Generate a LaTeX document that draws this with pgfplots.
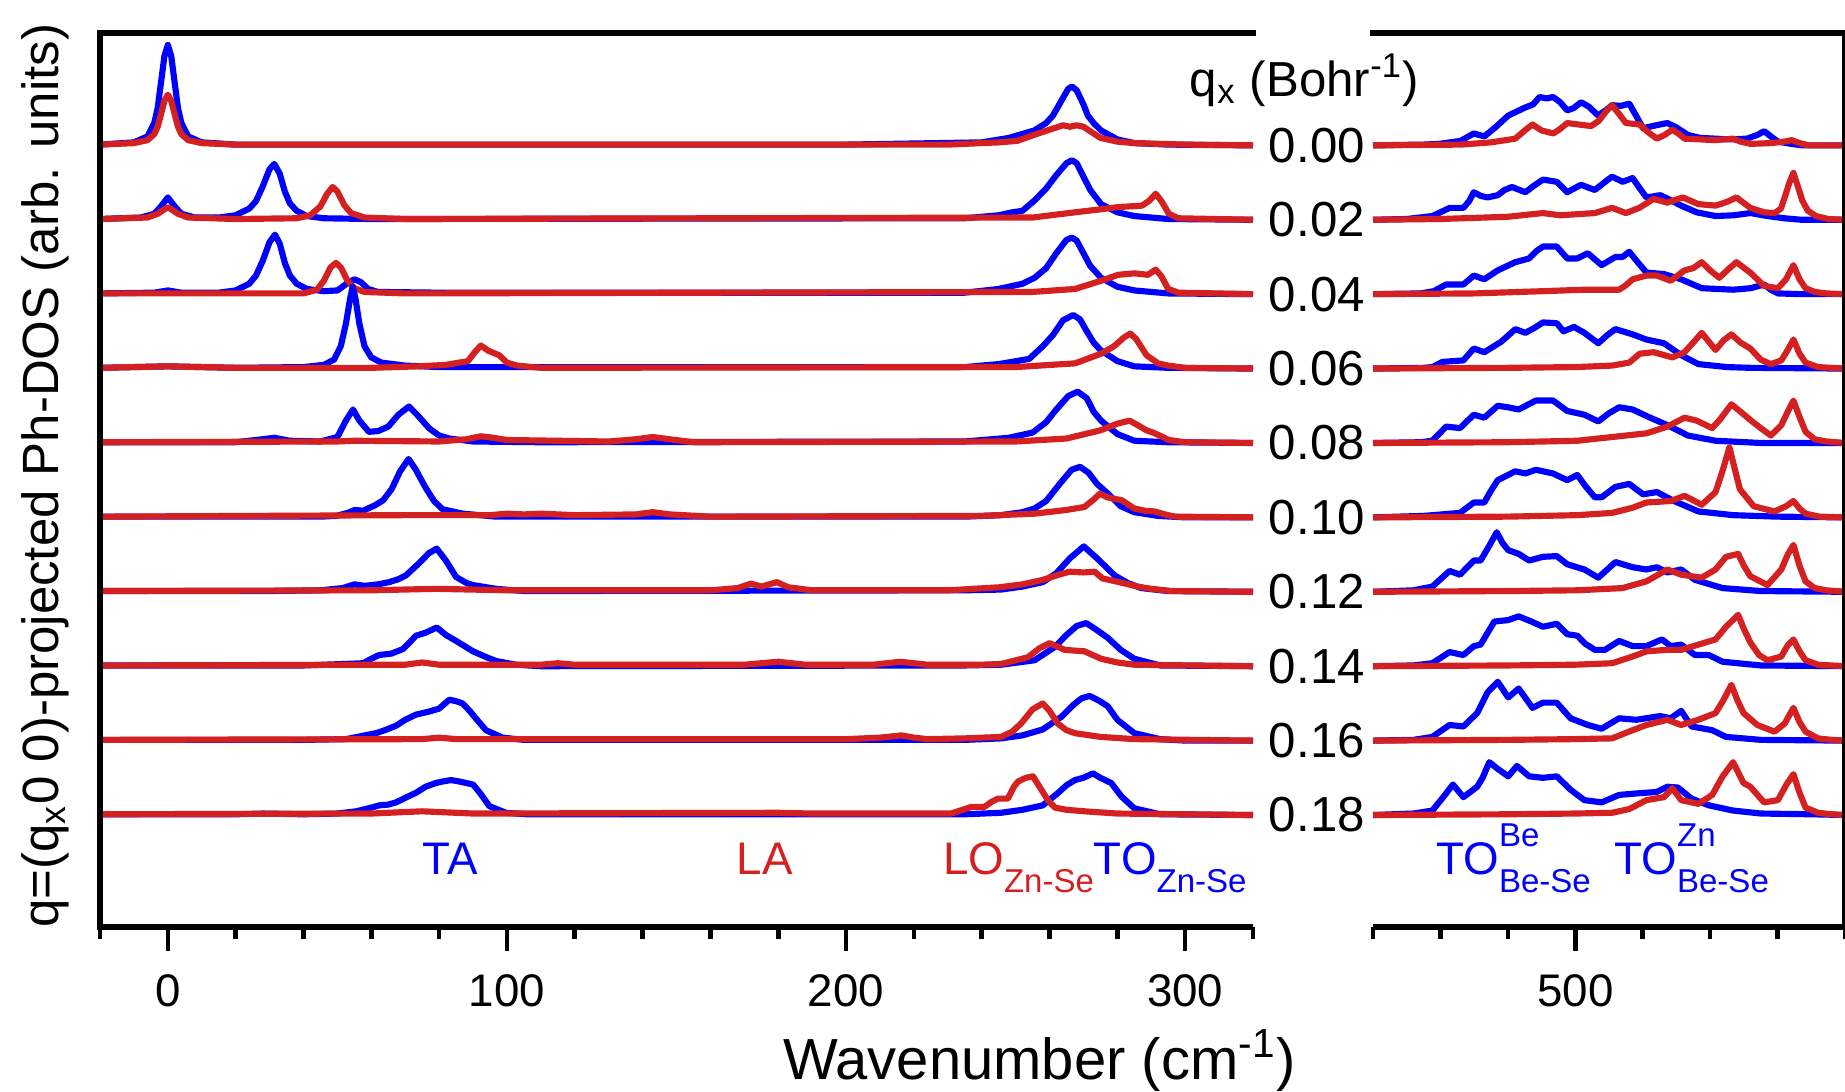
\documentclass[border=0pt]{standalone}
\usepackage{amsmath}
\usepackage{fontspec}
\setmainfont{Liberation Sans}
\usepackage{xcolor}
\usepackage{pgfplots}
\pgfplotsset{compat=1.18}
\definecolor{cblue}{HTML}{0000FF}
\definecolor{cred}{HTML}{D42020}

% label with stacked super- and subscript, set in the text font
\newcommand{\lbsub}[1]{\raisebox{-0.40em}{\fontsize{9.4}{10}\selectfont #1}}
\newcommand{\lbsupsub}[2]{\rlap{\raisebox{0.62em}{\fontsize{9.4}{10}\selectfont #1}}\lbsub{#2}}

\tikzset{qv/.style={anchor=west, inner sep=0, font=\fontsize{14}{16}\selectfont}}
\pgfplotsset{
  off/.style={y filter/.expression={y+#1}},
  bl/.style={draw=cblue, line width=1.75pt, line join=round, no marks},
  rd/.style={draw=cred, line width=1.75pt, line join=round, no marks},
  panel/.style={
    scale only axis, height=8.94cm,
    ymin=-1.505, ymax=10.51, ytick=\empty,
    hide y axis, clip=false,
    axis line style={line width=1.5pt, line cap=rect},
    tick align=outside, xtick pos=left,
    major tick length=0.24cm, minor tick length=0.12cm,
    every tick/.style={black, line width=1.3pt},
    /pgf/number format/assume math mode=true,
    xticklabel style={font=\fontsize{13}{15}\selectfont, yshift=-0.11cm},
  },
}

\begin{document}
\begin{tikzpicture}[font=\fontsize{13}{15}\selectfont]
\useasboundingbox (-1.00cm,-1.64cm) rectangle (17.45cm,9.27cm);

% ---------- low-frequency panel ----------
\begin{axis}[panel, at={(0,0)}, anchor=south west, width=11.53cm,
  xmin=-20, xmax=320, xtick={0,100,200,300},
  minor xtick={-20,20,40,60,80,120,140,160,180,220,240,260,280,320}]

% q = 0.00
\addplot[bl, off=9] coordinates {(-20,0.01) (-10,0.04) (-6,0.12) (-4,0.3) (-3,0.5) (-2,0.85) (-1,1.2) (0,1.35) (1,1.2) (2,0.85) (3,0.5) (4,0.3) (6,0.12) (10,0.04) (20,0.01) (100,0.01) (200,0.01) (240,0.04) (248,0.1) (255.5,0.2) (259,0.3) (261,0.4) (263.5,0.6) (265.5,0.76) (266.6,0.79) (268,0.74) (270,0.55) (271.3,0.4) (273,0.3) (275.2,0.2) (280,0.08) (285,0.03) (295,0.01) (320,0)};
\addplot[rd, off=9] coordinates {(-20,0.01) (-10,0.03) (-6,0.07) (-4,0.15) (-3,0.25) (-2,0.42) (-1,0.6) (0,0.68) (1,0.6) (2,0.42) (3,0.25) (4,0.15) (6,0.07) (10,0.03) (20,0.01) (230,0.01) (245,0.04) (250.5,0.06) (256,0.15) (262,0.24) (264,0.27) (266,0.25) (268,0.27) (270,0.25) (275,0.1) (280,0.05) (285,0.03) (300,0.01) (320,0)};

% q = 0.02
\addplot[bl, off=8] coordinates {(-20,0.01) (-8,0.03) (-4,0.08) (-2,0.18) (0,0.30) (2,0.18) (4,0.08) (8,0.03) (15,0.03) (20,0.06) (24,0.15) (26,0.25) (28,0.45) (30,0.68) (31.4,0.75) (33,0.62) (34.5,0.38) (36,0.22) (38,0.12) (41,0.05) (46,0.02) (60,0.01) (235,0.02) (245,0.06) (249,0.1) (252,0.12) (255.6,0.26) (259,0.42) (262,0.6) (265,0.76) (266.6,0.8) (268,0.76) (270,0.58) (272,0.4) (275.2,0.21) (280,0.1) (285,0.05) (295,0.01) (320,0)};
\addplot[rd, off=8] coordinates {(-20,0.01) (-6,0.03) (-3,0.08) (-1,0.14) (0,0.17) (1,0.14) (3,0.08) (6,0.03) (20,0.01) (38,0.02) (42,0.06) (45,0.18) (47,0.35) (48.6,0.44) (50,0.38) (52,0.2) (54,0.09) (58,0.03) (70,0.01) (255,0.03) (267.5,0.1) (275,0.14) (280.2,0.17) (287.3,0.19) (289.5,0.26) (291.3,0.35) (293,0.25) (295.2,0.08) (298,0.02) (320,0)};

% q = 0.04
\addplot[bl, off=7] coordinates {(-20,0.01) (-4,0.02) (0,0.05) (4,0.02) (15,0.02) (20,0.05) (24,0.14) (26,0.25) (28,0.45) (30,0.7) (31.6,0.8) (33,0.68) (34.5,0.42) (36,0.25) (38,0.14) (41,0.07) (46,0.04) (50,0.05) (53,0.15) (55,0.2) (57,0.16) (59,0.07) (62,0.03) (80,0.02) (100,0.02) (235,0.02) (245,0.07) (252,0.14) (255.6,0.22) (259,0.35) (262,0.55) (265,0.73) (266.6,0.76) (268,0.72) (270,0.55) (272,0.38) (275.2,0.22) (280,0.1) (285,0.05) (295,0.01) (320,0)};
\addplot[rd, off=7] coordinates {(-20,0.01) (40,0.01) (44,0.06) (46,0.18) (48,0.36) (49.6,0.42) (51,0.36) (53,0.18) (55,0.08) (58,0.03) (70,0.01) (255,0.03) (267.5,0.07) (275.2,0.18) (280.2,0.26) (285,0.28) (289,0.26) (291.3,0.33) (293,0.24) (295,0.07) (298,0.02) (320,0)};

% q = 0.06
\addplot[bl, off=6] coordinates {(-20,0.01) (0,0.03) (20,0.01) (40,0.02) (46,0.05) (49,0.12) (51,0.3) (52.5,0.6) (53.8,0.95) (54.5,1.1) (55.3,0.95) (56.5,0.6) (58,0.3) (60,0.15) (63,0.08) (70,0.04) (80,0.02) (100,0.02) (235,0.02) (245,0.06) (254,0.13) (258,0.3) (261,0.45) (264,0.65) (267,0.72) (269,0.66) (271,0.5) (273,0.35) (275,0.25) (280,0.1) (285,0.03) (295,0.01) (320,0)};
\addplot[rd, off=6] coordinates {(-20,0.01) (0,0.03) (20,0.01) (60,0.01) (73.8,0.03) (82,0.05) (88.5,0.1) (90.5,0.22) (92.3,0.31) (94.5,0.24) (97.7,0.18) (100,0.08) (103,0.04) (110,0.01) (250,0.02) (267.5,0.07) (275.2,0.2) (279,0.3) (282,0.42) (283.8,0.47) (285.5,0.4) (288.6,0.18) (292,0.07) (295,0.04) (300,0.01) (320,0)};

% q = 0.08
\addplot[bl, off=5] coordinates {(-20,0.01) (20,0.01) (26,0.04) (31.4,0.07) (36,0.03) (45,0.02) (50,0.08) (52.5,0.3) (54.6,0.45) (56.5,0.3) (59.3,0.15) (62,0.16) (65,0.22) (68,0.38) (71.1,0.49) (73.5,0.38) (77,0.2) (80,0.1) (83,0.06) (90,0.02) (110,0.01) (235,0.02) (248,0.07) (255,0.14) (259,0.28) (262,0.45) (265.5,0.63) (268.3,0.69) (271,0.6) (273,0.42) (275.2,0.3) (280,0.12) (285,0.03) (295,0.01) (320,0)};
\addplot[rd, off=5] coordinates {(-20,0.01) (50,0.02) (55,0.03) (80,0.02) (88,0.05) (92.3,0.09) (96,0.07) (100,0.04) (130,0.02) (138,0.05) (143,0.08) (148,0.05) (155,0.01) (250,0.02) (265,0.06) (275,0.17) (280,0.26) (283.6,0.3) (286,0.24) (288.6,0.17) (290.5,0.14) (292.5,0.1) (295.2,0.04) (300,0.01) (320,0)};

% q = 0.10
\addplot[bl, off=4] coordinates {(-20,0.01) (30,0.01) (45,0.01) (49.7,0.02) (53,0.06) (55.1,0.1) (57.6,0.09) (61,0.16) (63.5,0.23) (66,0.38) (68.5,0.62) (71,0.785) (73,0.65) (76,0.4) (78.5,0.22) (81,0.11) (87,0.05) (96.8,0.01) (235,0.01) (245.7,0.03) (252,0.07) (255.6,0.12) (259,0.22) (263,0.45) (266.5,0.64) (269,0.68) (271.5,0.6) (274,0.45) (277.2,0.32) (281,0.15) (285,0.07) (292,0.02) (300,0) (320,0)};
\addplot[rd, off=4] coordinates {(-20,0.01) (70,0.03) (95,0.03) (100,0.05) (105,0.04) (110,0.05) (120,0.03) (138,0.04) (143,0.07) (148,0.04) (160,0.01) (240,0.02) (255.6,0.05) (265,0.1) (270.3,0.14) (273,0.24) (274.9,0.32) (277,0.27) (281.3,0.23) (285,0.12) (288,0.09) (291,0.08) (294,0.04) (297,0.01) (320,0)};

% q = 0.12
\addplot[bl, off=3] coordinates {(-20,0.01) (30,0.01) (45,0.02) (51.6,0.05) (55,0.1) (58,0.08) (62,0.1) (65.3,0.13) (68,0.17) (70.2,0.22) (74,0.38) (77,0.52) (79.3,0.58) (82,0.42) (85,0.2) (88,0.12) (90,0.09) (96.8,0.04) (105,0.01) (235,0.02) (245.7,0.03) (252,0.07) (258,0.13) (262,0.25) (266,0.45) (270.1,0.61) (274,0.45) (279.2,0.22) (283,0.12) (287,0.05) (295,0.01) (320,0)};
\addplot[rd, off=3] coordinates {(-20,0.01) (60,0.02) (79,0.04) (100,0.02) (160,0.02) (168,0.05) (172,0.11) (175,0.07) (179.6,0.13) (183,0.06) (190,0.02) (230,0.02) (245,0.06) (252,0.1) (258,0.16) (262,0.22) (265.9,0.27) (270,0.26) (273.3,0.27) (275.6,0.18) (281.5,0.12) (286,0.07) (290,0.04) (296,0.01) (320,0)};

% q = 0.14
\addplot[bl, off=2] coordinates {(-20,0.01) (40,0.01) (52,0.03) (57.6,0.04) (60,0.1) (62.3,0.15) (66,0.17) (69.3,0.23) (71.5,0.33) (73.2,0.41) (76,0.45) (79.3,0.52) (82,0.42) (85,0.34) (90,0.2) (94,0.12) (96.8,0.07) (102.7,0.02) (110,0) (235,0.01) (245.7,0.02) (255.6,0.08) (261.6,0.26) (265,0.42) (268,0.54) (270.8,0.58) (273.5,0.5) (277.2,0.38) (281,0.22) (285,0.1) (292.6,0.01) (320,0)};
\addplot[rd, off=2] coordinates {(-20,0.01) (70,0.02) (75,0.05) (80,0.02) (110,0.02) (115,0.04) (120,0.02) (170,0.02) (180,0.06) (188,0.02) (208,0.02) (216,0.06) (224,0.02) (240,0.02) (245.7,0.03) (253.6,0.12) (257,0.24) (260,0.31) (262,0.27) (264.5,0.22) (270.3,0.2) (275.2,0.1) (280,0.05) (285,0.02) (320,0)};

% q = 0.16
\addplot[bl, off=1] coordinates {(-20,0.01) (40,0.01) (52.6,0.02) (57,0.06) (61.4,0.1) (64,0.14) (67.3,0.2) (70,0.28) (73.2,0.35) (77,0.39) (80,0.43) (83,0.55) (85,0.53) (86.9,0.5) (89,0.4) (90.8,0.3) (93.8,0.14) (98.7,0.04) (105,0.01) (235,0.01) (245.7,0.03) (252,0.07) (258,0.15) (263.5,0.32) (267,0.48) (269.5,0.57) (271.8,0.6) (274.5,0.54) (277.2,0.46) (280,0.28) (285,0.1) (292.6,0.02) (300,0) (320,0)};
\addplot[rd, off=1] coordinates {(-20,0.01) (75,0.02) (80,0.04) (85,0.02) (200,0.02) (210,0.04) (216.3,0.07) (220,0.04) (224,0.02) (235,0.03) (245.7,0.05) (249,0.12) (251.6,0.23) (255,0.42) (258,0.5) (260,0.4) (262.4,0.23) (265,0.14) (267.5,0.1) (275,0.05) (285,0.02) (320,0)};

% q = 0.18
\addplot[bl, off=0] coordinates {(-20,0.01) (20,0.01) (28,0.02) (40,0.01) (50,0.02) (55.6,0.05) (60,0.1) (62.4,0.13) (65,0.14) (67.3,0.17) (70,0.23) (73.2,0.3) (76,0.38) (79,0.43) (81,0.45) (83.5,0.47) (86,0.45) (90,0.41) (92,0.3) (94.8,0.12) (99.7,0.03) (106,0.01) (235,0.01) (245.7,0.03) (252,0.07) (258,0.13) (262.6,0.3) (265,0.4) (267.5,0.47) (270,0.5) (272.8,0.56) (275,0.5) (278.2,0.43) (281.2,0.25) (285,0.09) (292.6,0.01) (320,0)};
\addplot[rd, off=0] coordinates {(-20,0.01) (60,0.02) (75,0.05) (90,0.02) (180,0.03) (190,0.02) (231,0.02) (235,0.08) (236.9,0.11) (240.8,0.11) (243,0.18) (244.8,0.22) (247.7,0.22) (249.5,0.38) (250.7,0.45) (253,0.5) (255.1,0.52) (257.6,0.34) (259.5,0.2) (261.6,0.1) (265,0.07) (270.3,0.05) (280,0.02) (320,0)};

\draw[line width=1.5pt, line cap=rect] (rel axis cs:0,0) -- (rel axis cs:0,1);

\node[text=cblue, anchor=base, inner sep=0] at (axis cs:83.3,-0.80) {TA};
\node[text=cred, anchor=base, inner sep=0] at (axis cs:176,-0.80) {LA};
\node[anchor=base west, inner sep=0] at (axis cs:228.4,-0.80)
  {\textcolor{cred}{LO\lbsub{Zn-Se}}\textcolor{cblue}{TO\lbsub{Zn-Se}}};

\node[anchor=base west, inner sep=0, font=\fontsize{14}{16}\selectfont] at (axis cs:301.2,9.66)
  {q\textsubscript{x} (Bohr\textsuperscript{-1})};
\node[qv] at (axis cs:324.5,9) {0.00};
\node[qv] at (axis cs:324.5,8) {0.02};
\node[qv] at (axis cs:324.5,7) {0.04};
\node[qv] at (axis cs:324.5,6) {0.06};
\node[qv] at (axis cs:324.5,5) {0.08};
\node[qv] at (axis cs:324.5,4) {0.10};
\node[qv] at (axis cs:324.5,3) {0.12};
\node[qv] at (axis cs:324.5,2) {0.14};
\node[qv] at (axis cs:324.5,1) {0.16};
\node[qv] at (axis cs:324.5,0) {0.18};

\node[rotate=90, font=\fontsize{14.5}{16}\selectfont] at (axis cs:-36.2,4.56)
  {q=(q\textsubscript{x}0 0)-projected Ph-DOS (arb. units)};
\node[anchor=base, font=\fontsize{16.5}{18}\selectfont] at (axis cs:257,-3.56)
  {Wavenumber (cm\textsuperscript{-1})};
\end{axis}

% ---------- high-frequency panel ----------
\begin{axis}[panel, at={(12.73cm,0)}, anchor=south west, width=4.72cm,
  xmin=440, xmax=580, xtick={500},
  minor xtick={440,460,480,520,540,560,580}]

% q = 0.00
\addplot[bl, off=9] coordinates {(440,0) (455,0.01) (459.6,0.02) (466,0.06) (469.9,0.16) (473,0.12) (476.5,0.25) (480.1,0.4) (485.2,0.51) (487.5,0.55) (489.4,0.65) (491.5,0.63) (493.4,0.65) (495.5,0.58) (497.6,0.47) (499.5,0.5) (501.7,0.58) (504,0.52) (506.8,0.4) (509,0.47) (510.9,0.54) (513.5,0.53) (516,0.56) (518,0.4) (520.1,0.23) (524,0.27) (527.3,0.3) (530,0.24) (533.4,0.14) (537,0.1) (541.6,0.09) (546,0.08) (550.9,0.09) (554,0.14) (556,0.19) (558,0.12) (560.1,0.05) (564,0.02) (567.3,0) (580,0)};
\addplot[rd, off=9] coordinates {(440,0) (466,0.01) (475,0.04) (482.2,0.09) (485,0.2) (487.3,0.28) (490,0.2) (493.5,0.16) (495.5,0.22) (497.6,0.3) (501,0.28) (504.7,0.26) (507,0.33) (509,0.45) (510.9,0.54) (513,0.42) (515,0.3) (519.1,0.28) (521.5,0.18) (524.2,0.09) (526.5,0.14) (528.8,0.21) (530.5,0.16) (532.4,0.09) (537,0.08) (541.6,0.07) (546.8,0.09) (549,0.05) (551.9,0.02) (558,0.03) (562,0.05) (564.2,0.07) (566.5,0.03) (569.3,0) (580,0)};

% q = 0.02
\addplot[bl, off=8] coordinates {(440,0) (450,0.01) (457.6,0.05) (460,0.1) (462.7,0.16) (466.8,0.16) (468.5,0.25) (469.9,0.37) (472,0.32) (474,0.3) (477,0.33) (479,0.4) (481.2,0.44) (485.2,0.37) (487.5,0.45) (490.4,0.54) (494.5,0.51) (497.6,0.37) (501.7,0.47) (505.8,0.4) (508,0.48) (510.9,0.58) (514,0.51) (517,0.56) (519,0.43) (521.1,0.3) (525.2,0.33) (528,0.27) (531.4,0.19) (536,0.1) (541.6,0.05) (547,0.06) (551.9,0.09) (557,0.05) (562,0.02) (567,0) (580,0)};
\addplot[rd, off=8] coordinates {(440,0) (460,0.01) (480,0.04) (490.4,0.09) (495.5,0.06) (505.8,0.09) (510.9,0.16) (515,0.09) (519,0.16) (523.2,0.28) (527.3,0.23) (531.9,0.3) (536.5,0.21) (541.6,0.19) (545,0.24) (547.8,0.3) (551.9,0.16) (556,0.1) (559.1,0.09) (561,0.15) (562.1,0.3) (563.5,0.5) (564.7,0.63) (566,0.45) (567.3,0.26) (569,0.12) (571.4,0.05) (575,0.01) (580,0)};

% q = 0.04
\addplot[bl, off=7] coordinates {(440,0) (454,0.01) (458,0.04) (461.7,0.13) (466.8,0.13) (469.9,0.25) (473,0.2) (477,0.32) (482.2,0.43) (486.3,0.48) (488.5,0.58) (490.4,0.64) (494.5,0.64) (497.6,0.48) (500.6,0.48) (503.7,0.55) (507.8,0.39) (511.9,0.5) (514,0.5) (516,0.57) (518.5,0.43) (521.1,0.29) (526.3,0.27) (531.4,0.2) (537.5,0.08) (546.8,0.06) (552,0.08) (556,0.13) (558,0.06) (560.1,0.01) (567,0) (580,0)};
\addplot[rd, off=7] coordinates {(440,0) (470,0.01) (490.4,0.04) (502.7,0.06) (513,0.06) (515,0.12) (517,0.2) (521.1,0.25) (524.2,0.25) (528.3,0.18) (532.4,0.32) (535,0.35) (537.5,0.43) (540,0.32) (542.7,0.22) (545.5,0.34) (547.8,0.43) (551.9,0.29) (556,0.11) (560.1,0.08) (562.5,0.2) (564.7,0.39) (566.5,0.2) (568.3,0.08) (571,0.03) (574.5,0.01) (580,0)};

% q = 0.06
\addplot[bl, off=6] coordinates {(440,0) (455,0.01) (457.6,0.02) (460.6,0.09) (466.8,0.11) (469.9,0.27) (473,0.22) (478,0.36) (482.2,0.53) (485.2,0.48) (488,0.55) (490.4,0.62) (494.5,0.61) (496.5,0.5) (499.6,0.56) (502.7,0.48) (506.8,0.34) (509.5,0.45) (511.9,0.53) (517,0.46) (521.1,0.39) (526.3,0.34) (531.4,0.18) (536.5,0.06) (545,0.02) (551.9,0.01) (580,0)};
\addplot[rd, off=6] coordinates {(440,0) (480,0.01) (500,0.02) (510.9,0.04) (516,0.08) (519.1,0.2) (523.2,0.22) (528.8,0.15) (532.4,0.22) (535,0.35) (537.5,0.48) (541.6,0.25) (544,0.38) (546.3,0.46) (549,0.35) (551.9,0.27) (555,0.12) (558,0.06) (561.1,0.11) (563,0.25) (564.7,0.39) (566.5,0.2) (568.3,0.08) (572,0.02) (580,0)};

% q = 0.08
\addplot[bl, off=5] coordinates {(440,0) (454,0.01) (457.6,0.03) (461.7,0.22) (465.8,0.2) (469.9,0.38) (473,0.34) (477,0.5) (480,0.48) (483.2,0.45) (488.3,0.57) (493.4,0.57) (497.6,0.43) (502.7,0.38) (506.8,0.29) (510,0.4) (513,0.48) (517,0.45) (522.2,0.34) (527.3,0.24) (533.4,0.1) (541.6,0.03) (555,0) (580,0)};
\addplot[rd, off=5] coordinates {(440,0) (480,0.01) (500.6,0.03) (510.9,0.08) (521.1,0.13) (527.3,0.22) (532.4,0.34) (536,0.3) (540.6,0.2) (543,0.32) (546.3,0.52) (549,0.42) (551.9,0.31) (555,0.2) (558,0.1) (561.1,0.24) (563,0.42) (564.7,0.57) (566.5,0.35) (568.3,0.15) (571,0.05) (574.5,0.02) (580,0)};

% q = 0.10
\addplot[bl, off=4] coordinates {(440,0) (455,0.02) (465.8,0.06) (469.9,0.2) (473,0.2) (475,0.36) (477,0.5) (482.2,0.62) (485.2,0.59) (488.3,0.64) (493.4,0.59) (497.6,0.5) (500.6,0.57) (503,0.42) (505.8,0.27) (507.8,0.27) (511.9,0.41) (516,0.45) (520.1,0.31) (524.2,0.34) (529.3,0.22) (536.5,0.08) (546.8,0.03) (560,0.01) (580,0)};
\addplot[rd, off=4] coordinates {(440,0) (480,0.01) (500.6,0.03) (510.9,0.06) (517,0.13) (521.1,0.2) (528.3,0.22) (532.4,0.29) (537.5,0.17) (541.6,0.34) (543.5,0.6) (545.7,0.94) (547.3,0.65) (548.8,0.38) (552.9,0.15) (559.1,0.08) (562.5,0.15) (564.7,0.22) (566.5,0.12) (568.3,0.05) (572.4,0.01) (580,0)};

% q = 0.12
\addplot[bl, off=3] coordinates {(440,0) (452,0.02) (457.6,0.07) (462.7,0.28) (465.8,0.23) (469.9,0.42) (471.9,0.42) (474.5,0.62) (476.7,0.8) (478.5,0.65) (480.1,0.56) (483.2,0.51) (486.3,0.42) (490.4,0.47) (494.5,0.48) (497.6,0.37) (502.7,0.3) (506.8,0.19) (509.5,0.3) (511.9,0.4) (517,0.33) (521.1,0.3) (524.2,0.33) (527.3,0.26) (531.4,0.3) (535.5,0.16) (543.7,0.05) (555,0.01) (580,0)};
\addplot[rd, off=3] coordinates {(440,0) (480,0.01) (500.6,0.02) (514,0.05) (521.1,0.14) (527.3,0.3) (531.4,0.23) (537.5,0.19) (541.6,0.3) (544.7,0.47) (548.3,0.51) (550,0.35) (551.9,0.21) (557,0.09) (561.1,0.3) (563,0.5) (564.7,0.63) (566.5,0.35) (568.3,0.14) (571,0.05) (574.5,0.02) (580,0)};

% q = 0.14
\addplot[bl, off=2] coordinates {(440,0) (452,0.01) (457.6,0.04) (462.7,0.19) (466.8,0.15) (469.9,0.27) (471.9,0.29) (474,0.45) (476,0.6) (480.1,0.62) (483.2,0.67) (487,0.6) (490.4,0.53) (494.5,0.57) (497.6,0.43) (500.6,0.41) (503,0.3) (505.8,0.22) (508.8,0.22) (513,0.34) (517,0.27) (521.1,0.27) (525.7,0.36) (528.3,0.27) (531.4,0.29) (535.5,0.15) (539.6,0.15) (543.7,0.06) (555,0.01) (580,0)};
\addplot[rd, off=2] coordinates {(440,0) (480,0.01) (500,0.02) (510.9,0.04) (517,0.13) (521.1,0.2) (527.3,0.22) (531.4,0.22) (536.5,0.29) (541.6,0.36) (544.7,0.53) (548.3,0.69) (550,0.5) (551.9,0.32) (554.5,0.15) (557,0.08) (561.1,0.13) (563,0.28) (564.7,0.36) (566.5,0.2) (568.3,0.08) (572,0.02) (580,0)};

% q = 0.16
\addplot[bl, off=1] coordinates {(440,0) (452,0.01) (457.6,0.05) (462.7,0.21) (466.8,0.19) (470.9,0.37) (474,0.65) (477,0.79) (480.1,0.58) (483.2,0.7) (487.3,0.44) (490.4,0.51) (494.5,0.51) (498.6,0.3) (503.7,0.21) (507.8,0.16) (513,0.3) (518.1,0.28) (525.2,0.33) (528.3,0.3) (531.4,0.4) (534.5,0.19) (540.6,0.14) (544.7,0.05) (555,0.01) (580,0)};
\addplot[rd, off=1] coordinates {(440,0) (480,0.01) (500,0.02) (510.9,0.03) (517,0.14) (521.1,0.21) (527.3,0.28) (531.4,0.21) (536.5,0.28) (541.6,0.37) (544,0.55) (546.3,0.75) (548,0.55) (549.9,0.37) (554,0.21) (559.1,0.12) (562.1,0.23) (564.7,0.44) (566.5,0.25) (568.3,0.12) (572,0.03) (576,0.01) (580,0)};

% q = 0.18
\addplot[bl, off=0] coordinates {(440,0) (452,0.02) (457.6,0.06) (461,0.25) (463.7,0.41) (466.8,0.24) (470.9,0.38) (472.5,0.5) (474.5,0.71) (477,0.62) (480.1,0.52) (482.7,0.66) (486.3,0.52) (490.4,0.5) (494.5,0.52) (498.6,0.34) (502.7,0.2) (507.8,0.17) (513,0.27) (518.1,0.29) (524.2,0.31) (527.3,0.38) (530.4,0.37) (534.5,0.22) (539.6,0.13) (546.8,0.06) (555,0.02) (570,0.01) (580,0)};
\addplot[rd, off=0] coordinates {(440,0) (480,0.01) (500,0.02) (510.9,0.03) (516,0.08) (521.1,0.2) (526.3,0.24) (528.8,0.36) (531.4,0.2) (536.5,0.15) (540.6,0.27) (543.7,0.52) (546.8,0.71) (549.9,0.43) (551.9,0.38) (556,0.17) (560.1,0.2) (562.5,0.4) (564.7,0.55) (566.5,0.3) (568.3,0.1) (572,0.03) (576,0.01) (580,0)};

\draw[line width=1.5pt, line cap=rect] (rel axis cs:1,0) -- (rel axis cs:1,1);

\node[text=cblue, anchor=base west, inner sep=0] at (axis cs:458.6,-0.80)
  {TO\lbsupsub{Be}{Be-Se}};
\node[text=cblue, anchor=base west, inner sep=0] at (axis cs:511.4,-0.80)
  {TO\lbsupsub{Zn}{Be-Se}};
\end{axis}
\end{tikzpicture}
\end{document}
